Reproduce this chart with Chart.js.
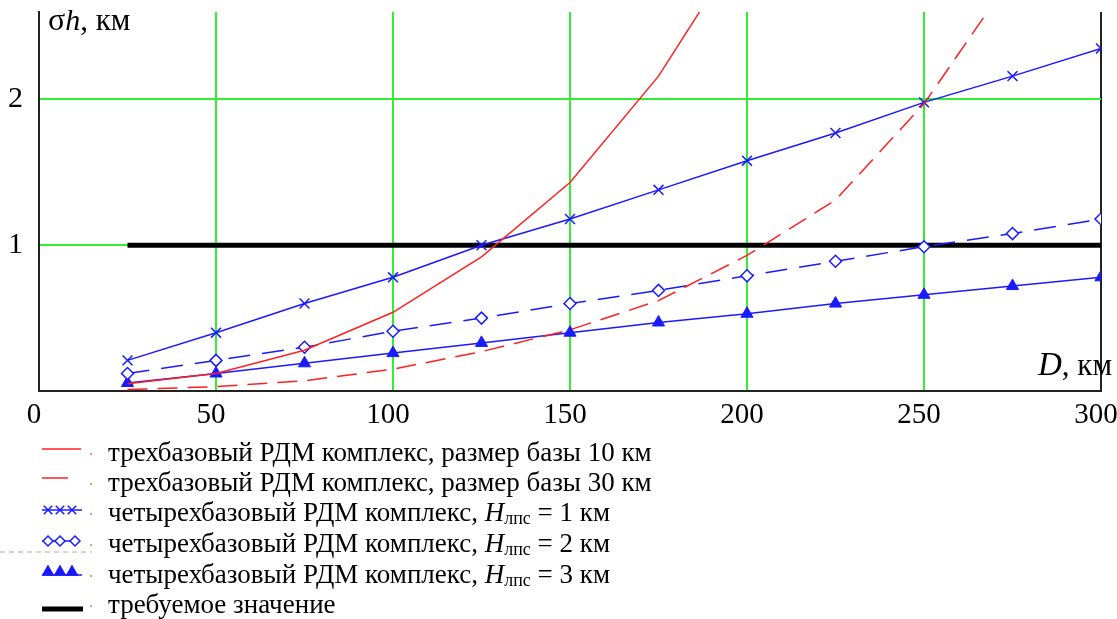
<!DOCTYPE html>
<html>
<head>
<meta charset="utf-8">
<script src="https://cdn.jsdelivr.net/npm/chart.js@4/dist/chart.umd.min.js"></script>
<style>
  html, body { margin: 0; padding: 0; background: #fff; }
  #wrap { width: 1117px; height: 619px; }
</style>
</head>
<body>
<div id="wrap"><canvas id="chart" width="1117" height="619"></canvas></div>
<script>
// дальность D, км
const dists = [25, 50, 75, 100, 125, 150, 175, 200, 225, 250, 275, 300];
// трехбазовый комплекс, база 10 км (D = 25..200)
const base10 = [0.05, 0.12, 0.28, 0.54, 0.92, 1.43, 2.16, 3.11];
// трехбазовый комплекс, база 30 км (D = 25..275)
const base30 = [0.01, 0.03, 0.07, 0.15, 0.27, 0.42, 0.62, 0.93, 1.31, 1.97, 2.85];
// четырехбазовый комплекс, Hлпс = 1, 2, 3 км
const h1 = [0.21, 0.40, 0.60, 0.78, 1.00, 1.18, 1.38, 1.58, 1.77, 1.98, 2.16, 2.35];
const h2 = [0.12, 0.21, 0.30, 0.41, 0.50, 0.60, 0.69, 0.79, 0.89, 0.99, 1.08, 1.18];
const h3 = [0.055, 0.12, 0.19, 0.26, 0.33, 0.40, 0.47, 0.53, 0.60, 0.66, 0.72, 0.78];
// требуемое значение
const reqD = [25, 300];
const reqVal = [1, 1];
const yTicks = [1, 2];

const RED = '#ff2020';
const BLUE = '#1a1aff';
const GREEN = '#33ee33';
const AXIS = '#222';
const SERIF = '"Liberation Serif", "DejaVu Serif", serif';

const pts = (xs, ys) => ys.map((v, i) => ({ x: xs[i], y: v }));

// подписи осей и легенда рисуются поверх графика
const labelsPlugin = {
  id: 'labels',
  afterDraw(chart) {
    const ctx = chart.ctx;
    ctx.save();
    ctx.fillStyle = '#000';
    ctx.textBaseline = 'alphabetic';
    ctx.textAlign = 'left';

    // выводит строку из кусков с разным начертанием
    const runs = (x, y, parts) => {
      parts.forEach(p => {
        ctx.font = p.f;
        ctx.fillText(p.t, x, y + (p.dy || 0));
        x += ctx.measureText(p.t).width;
      });
      return x;
    };

    // σh, км
    runs(48, 30, [
      { t: 'σ', f: '32px ' + SERIF },
      { t: 'h', f: 'italic 30px ' + SERIF },
      { t: ', км', f: '31px ' + SERIF }
    ]);

    // D, км (прижато к правому краю)
    const dParts = [
      { t: 'D', f: 'italic 33px ' + SERIF },
      { t: ', км', f: '31px ' + SERIF }
    ];
    let w = 0;
    dParts.forEach(p => { ctx.font = p.f; w += ctx.measureText(p.t).width; });
    runs(1112 - w, 375, dParts);

    // легенда
    const draw = Chart.helpers.drawPoint;
    const rows = [452, 482, 512, 543, 574, 604];
    const tf = '27px ' + SERIF;
    const hl = (n) => [
      { t: 'четырехбазовый РДМ комплекс, ', f: tf },
      { t: 'H', f: 'italic 27px ' + SERIF },
      { t: 'лпс', f: '18px ' + SERIF, dy: 3 },
      { t: ' = ' + n + ' км', f: tf }
    ];
    const texts = [
      [{ t: 'трехбазовый РДМ комплекс, размер базы 10 км', f: tf }],
      [{ t: 'трехбазовый РДМ комплекс, размер базы 30 км', f: tf }],
      hl(1), hl(2), hl(3),
      [{ t: 'требуемое значение', f: tf }]
    ];
    texts.forEach((parts, i) => runs(108, rows[i] + 9, parts));

    const line = (x1, x2, y, color, w, dash) => {
      ctx.beginPath();
      ctx.setLineDash(dash || []);
      ctx.strokeStyle = color;
      ctx.lineWidth = w;
      ctx.moveTo(x1, y);
      ctx.lineTo(x2, y);
      ctx.stroke();
      ctx.setLineDash([]);
    };

    line(42, 81, 449, RED, 1.5);
    line(42, 68, 478, RED, 1.5);

    line(42, 82, 510, BLUE, 1.5);
    ctx.strokeStyle = BLUE;
    ctx.lineWidth = 1.5;
    [48, 60, 72].forEach(x => draw(ctx, { pointStyle: 'crossRot', radius: 6, borderWidth: 1.5 }, x, 510));

    line(0, 92, 552, '#aaa', 1, [5, 4]);
    line(42, 78, 541, BLUE, 1.5);
    ctx.fillStyle = '#fff';
    ctx.strokeStyle = BLUE;
    [48, 60, 75].forEach(x => draw(ctx, { pointStyle: 'rectRot', radius: 5, borderWidth: 1.5 }, x, 541));

    line(42, 82, 575, BLUE, 1.5);
    ctx.fillStyle = BLUE;
    [48, 60, 72].forEach(x => draw(ctx, { pointStyle: 'triangle', radius: 6, borderWidth: 1 }, x, 572));

    line(42, 83, 609, '#000', 5);

    ctx.fillStyle = '#e0a060';
    rows.forEach(r => ctx.fillRect(90, r + 1, 2, 2));
    ctx.restore();
  }
};

new Chart(document.getElementById('chart'), {
  type: 'line',
  data: {
    datasets: [
      {
        data: pts(dists, base10),
        borderColor: RED, borderWidth: 1.5,
        pointRadius: 0, tension: 0
      },
      {
        data: pts(dists, base30),
        borderColor: RED, borderWidth: 1.5, borderDash: [20, 10],
        pointRadius: 0, tension: 0
      },
      {
        data: pts(dists, h1),
        borderColor: BLUE, borderWidth: 1.5,
        pointStyle: 'crossRot', pointRadius: 7, pointBorderWidth: 1.5,
        pointBorderColor: BLUE, tension: 0
      },
      {
        data: pts(dists, h2),
        borderColor: BLUE, borderWidth: 1.5, borderDash: [22, 12],
        pointStyle: 'rectRot', pointRadius: 6, pointBorderWidth: 1.5,
        pointBorderColor: BLUE, pointBackgroundColor: '#fff', tension: 0
      },
      {
        data: pts(dists, h3),
        borderColor: BLUE, borderWidth: 1.5,
        pointStyle: 'triangle', pointRadius: 7, pointBorderWidth: 1,
        pointBorderColor: BLUE, pointBackgroundColor: BLUE, tension: 0
      },
      {
        data: pts(reqD, reqVal),
        borderColor: '#000', borderWidth: 5,
        pointRadius: 0, tension: 0
      }
    ]
  },
  options: {
    responsive: false,
    animation: false,
    layout: { padding: { top: 12, right: 16, left: 0, bottom: 188 } },
    plugins: { legend: { display: false }, tooltip: { enabled: false } },
    scales: {
      x: {
        type: 'linear', min: 0, max: 300,
        afterFit: s => { s.height = 40; s.paddingLeft = 0; s.paddingRight = 0; },
        border: { display: true, color: AXIS, width: 2 },
        grid: {
          drawTicks: false,
          lineWidth: 2,
          color: c => c.tick.value === 300 ? AXIS : (c.tick.value === 0 ? 'rgba(0,0,0,0)' : GREEN)
        },
        ticks: {
          stepSize: 50, padding: 7, labelOffset: -5,
          color: '#000', font: { family: SERIF, size: 29 }
        }
      },
      y: {
        min: 0, max: 2.6,
        afterFit: s => { s.width = 39; s.paddingTop = 0; s.paddingBottom = 0; },
        afterBuildTicks: s => { s.ticks = yTicks.map(v => ({ value: v })); },
        border: { display: true, color: AXIS, width: 2 },
        grid: { drawTicks: false, lineWidth: 2, color: GREEN },
        ticks: {
          padding: 16,
          color: '#000', font: { family: SERIF, size: 30 }
        }
      }
    }
  },
  plugins: [labelsPlugin]
});
</script>
</body>
</html>
